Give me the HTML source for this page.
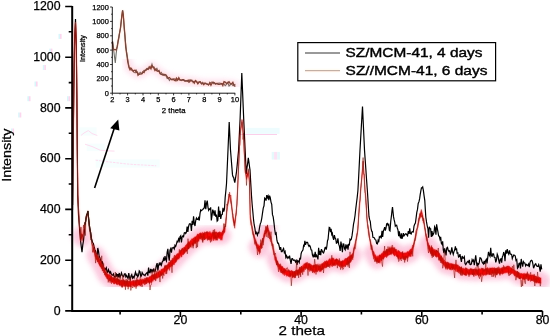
<!DOCTYPE html>
<html><head><meta charset="utf-8"><style>
html,body{margin:0;padding:0;background:#fff;width:550px;height:336px;overflow:hidden}
svg{display:block;font-family:"Liberation Sans",sans-serif}
text{stroke:#000;stroke-width:0.25px}
</style></head><body>
<svg width="550" height="336" viewBox="0 0 550 336" fill="#000">
<defs><filter id="bl" x="-5%" y="-5%" width="110%" height="110%"><feGaussianBlur stdDeviation="2.5"/></filter><filter id="jp" x="0" y="0" width="550" height="336" filterUnits="userSpaceOnUse" color-interpolation-filters="sRGB"><feColorMatrix in="SourceGraphic" type="matrix" values="0.299 0.587 0.114 0 0  0.299 0.587 0.114 0 0  0.299 0.587 0.114 0 0  0 0 0 1 0" result="Y"/><feGaussianBlur in="SourceGraphic" stdDeviation="0.85" result="B"/><feColorMatrix in="B" type="matrix" values="0.3505 -0.2935 -0.057 0 0.5  -0.1495 0.2065 -0.057 0 0.5  -0.1495 -0.2935 0.443 0 0.5  0 0 0 1 0" result="C"/><feComposite in="Y" in2="C" operator="arithmetic" k1="0" k2="1" k3="2" k4="-1"/></filter></defs>
<g filter="url(#jp)">
<rect x="-20" y="-20" width="590" height="376" fill="#fff"/>
<path d="M81.00,236.00 L81.75,237.00 L82.50,238.00 M95.60,255.00 L96.50,256.50 L97.40,258.00 L98.30,259.50 L99.20,261.00 L100.15,262.75 L101.10,264.50 L102.05,266.25 L103.00,268.00 L103.83,269.75 L104.65,271.50 L105.47,273.25 L106.30,275.00 L107.25,275.75 L108.20,276.50 L109.15,277.25 L110.10,278.00 L111.05,278.75 L112.00,279.50 L113.00,279.88 L114.00,280.25 L115.00,280.62 L116.00,281.00 L117.00,281.38 L118.00,281.75 L119.00,282.12 L120.00,282.50 L120.95,282.60 L121.90,282.70 L122.85,282.80 L123.80,282.90 L124.75,283.00 L125.70,283.10 L126.65,283.20 L127.60,283.30 L128.55,283.40 L129.50,283.50 L130.45,283.41 L131.41,283.32 L132.36,283.23 L133.32,283.14 L134.27,283.05 L135.23,282.95 L136.18,282.86 L137.14,282.77 L138.09,282.68 L139.05,282.59 L140.00,282.50 L141.00,282.18 L142.00,281.86 L143.00,281.54 L144.00,281.22 L145.00,280.90 L146.00,280.58 L147.00,280.26 L148.00,279.94 L149.00,279.62 L150.00,279.30 L151.00,278.72 L152.00,278.14 L153.00,277.56 L154.00,276.98 L155.00,276.40 L156.00,275.82 L157.00,275.24 L158.00,274.66 L159.00,274.08 L160.00,273.50 L161.00,272.60 L162.00,271.70 L163.00,270.80 L164.00,269.90 L165.00,269.00 L166.00,268.10 L167.00,267.20 L168.00,266.30 L169.00,265.40 L170.00,264.50 L171.00,263.45 L172.00,262.40 L173.00,261.35 L174.00,260.30 L175.00,259.25 L176.00,258.20 L177.00,257.15 L178.00,256.10 L179.00,255.05 L180.00,254.00 L181.00,253.00 L182.00,252.00 L183.00,251.00 L184.00,250.00 L185.00,249.00 L186.00,248.00 L187.00,247.00 L188.00,246.00 L189.00,245.00 L190.00,244.00 L191.00,243.20 L192.00,242.40 L193.00,241.60 L194.00,240.80 L195.00,240.00 L196.00,239.20 L197.00,238.40 L198.00,237.60 L199.00,236.80 L200.00,236.00 L201.00,235.93 L202.00,235.86 L203.00,235.79 L204.00,235.71 L205.00,235.64 L206.00,235.57 L207.00,235.50 L208.00,235.50 L209.00,235.50 L210.00,235.50 L211.00,235.50 L212.00,235.50 L213.00,235.50 L214.00,235.50 L215.00,235.50 L216.00,235.50 L217.00,235.50 L218.00,235.50 L219.00,235.50 L220.00,235.50 L221.00,235.50 L222.00,235.50 M257.50,247.00 L258.50,248.00 L259.50,249.00 L260.33,247.00 L261.17,245.00 L262.00,243.00 M265.00,233.00 L265.83,231.33 L266.67,229.67 L267.50,228.00 M275.40,259.00 L276.30,260.80 L277.20,262.60 L278.10,264.40 L279.00,266.20 L279.90,268.00 L280.82,268.62 L281.75,269.25 L282.68,269.88 L283.60,270.50 L284.52,271.12 L285.45,271.75 L286.38,272.38 L287.30,273.00 L288.26,273.14 L289.21,273.29 L290.17,273.43 L291.13,273.57 L292.09,273.71 L293.04,273.86 L294.00,274.00 L295.00,273.50 L296.00,273.00 L297.00,272.50 L298.00,272.00 L299.00,271.50 L300.00,271.00 L300.96,270.14 L301.91,269.29 L302.87,268.43 L303.83,267.57 L304.79,266.71 L305.74,265.86 L306.70,265.00 L307.58,265.50 L308.47,266.00 L309.35,266.50 L310.23,267.00 L311.12,267.50 L312.00,268.00 L313.00,268.00 L314.00,268.00 L315.00,268.00 L316.00,268.00 L317.00,268.00 L318.00,268.00 L319.00,268.00 L320.00,268.00 L321.00,267.33 L322.00,266.67 L323.00,266.00 L324.00,265.33 L325.00,264.67 L326.00,264.00 L327.00,263.33 L328.00,262.67 L329.00,262.00 L330.00,262.00 L331.00,262.00 L332.00,262.00 L333.00,262.00 L334.00,262.00 L335.00,262.00 L336.00,262.00 L337.00,262.33 L338.00,262.67 L339.00,263.00 L340.00,263.33 L341.00,263.67 L342.00,264.00 L343.00,263.38 L344.00,262.75 L345.00,262.12 L346.00,261.50 L347.00,260.88 L348.00,260.25 L349.00,259.62 L350.00,259.00 L350.93,257.67 L351.87,256.33 L352.80,255.00 M372.90,253.00 L373.72,254.40 L374.54,255.80 L375.36,257.20 L376.18,258.60 L377.00,260.00 L378.00,259.22 L379.00,258.44 L380.00,257.67 L381.00,256.89 L382.00,256.11 L383.00,255.33 L384.00,254.56 L385.00,253.78 L386.00,253.00 L387.00,252.50 L388.00,252.00 L389.00,251.50 L390.00,251.00 L391.00,250.50 L392.00,250.00 L393.00,250.62 L394.00,251.25 L395.00,251.88 L396.00,252.50 L397.00,253.12 L398.00,253.75 L399.00,254.38 L400.00,255.00 L401.00,255.25 L402.00,255.50 L403.00,255.75 L404.00,256.00 L405.00,255.57 L406.00,255.14 L407.00,254.71 L408.00,254.29 L409.00,253.86 L410.00,253.43 L411.00,253.00 M427.90,244.60 L428.73,246.40 L429.57,248.20 L430.40,250.00 L431.30,250.50 L432.20,251.00 L433.10,251.50 L434.00,252.00 L434.86,252.40 L435.72,252.80 L436.58,253.20 L437.44,253.60 L438.30,254.00 L439.18,255.40 L440.06,256.80 L440.94,258.20 L441.82,259.60 L442.70,261.00 L443.52,262.00 L444.35,263.00 L445.18,264.00 L446.00,265.00 L447.00,265.25 L448.00,265.50 L449.00,265.75 L450.00,266.00 L451.00,266.25 L452.00,266.50 L453.00,266.75 L454.00,267.00 L455.00,267.25 L456.00,267.50 L457.00,267.75 L458.00,268.00 L459.00,268.75 L460.00,269.50 L461.00,270.25 L462.00,271.00 L463.00,271.07 L464.00,271.14 L465.00,271.21 L466.00,271.29 L467.00,271.36 L468.00,271.43 L469.00,271.50 L470.00,271.57 L471.00,271.64 L472.00,271.71 L473.00,271.79 L474.00,271.86 L475.00,271.93 L476.00,272.00 L477.00,271.93 L478.00,271.86 L479.00,271.79 L480.00,271.71 L481.00,271.64 L482.00,271.57 L483.00,271.50 L484.00,271.43 L485.00,271.36 L486.00,271.29 L487.00,271.21 L488.00,271.14 L489.00,271.07 L490.00,271.00 L491.00,271.00 L492.00,271.00 L493.00,271.00 L494.00,271.00 L495.00,271.00 L496.00,271.00 L497.00,271.00 L498.00,271.00 L499.00,271.00 L500.00,271.00 L501.00,270.78 L502.00,270.56 L503.00,270.33 L504.00,270.11 L505.00,269.89 L506.00,269.67 L507.00,269.44 L508.00,269.22 L509.00,269.00 L510.00,269.64 L511.00,270.27 L512.00,270.91 L513.00,271.55 L514.00,272.18 L515.00,272.82 L516.00,273.45 L517.00,274.09 L518.00,274.73 L519.00,275.36 L520.00,276.00 L521.00,276.10 L522.00,276.20 L523.00,276.30 L524.00,276.40 L525.00,276.50 L526.00,276.60 L527.00,276.70 L528.00,276.80 L529.00,276.90 L530.00,277.00 L531.00,277.34 L532.00,277.67 L533.00,278.01 L534.00,278.35 L535.00,278.68 L536.00,279.02 L537.00,279.35 L538.00,279.69 L539.00,280.03 L540.00,280.36 L541.00,280.70" fill="none" stroke="#fcc2da" stroke-width="18" stroke-linecap="round" stroke-linejoin="round" opacity="0.9" filter="url(#bl)"/>
<path d="M72.60,205.00 L73.20,150.00 L73.80,90.00 L74.20,65.00 L74.60,40.00 L75.05,29.50 L75.50,19.00 L75.90,32.00 L76.30,45.00 L76.90,100.00 L77.30,150.00 L77.70,195.00 L78.10,205.00 L78.50,215.00 L79.00,221.50 L79.50,228.00 L80.00,234.00 L80.50,240.11 L81.25,246.52 L82.00,252.20 L82.75,245.18 L83.50,240.59 L84.25,232.71 L85.00,224.73 L85.75,220.57 L86.50,215.37 L87.20,213.75 L87.90,211.07 L88.65,218.78 L89.40,225.64 L90.05,229.56 L90.70,232.96 L91.35,237.90 L92.00,241.04 L92.72,242.56 L93.44,243.74 L94.16,246.97 L94.88,249.66 L95.60,251.27 L96.32,256.24 L97.04,256.50 L97.76,247.93 L98.48,251.13 L99.20,256.56 L99.83,257.40 L100.47,260.13 L101.10,261.47 L101.73,266.84 L102.37,261.33 L103.00,264.22 L103.66,270.61 L104.32,268.78 L104.98,269.99 L105.64,268.74 L106.30,267.64 L107.01,271.90 L107.72,272.26 L108.44,269.62 L109.15,271.41 L109.86,273.33 L110.58,271.83 L111.29,274.28 L112.00,275.22 L112.73,275.13 L113.45,273.91 L114.18,276.52 L114.91,277.26 L115.64,275.97 L116.36,273.37 L117.09,277.02 L117.82,274.20 L118.55,277.45 L119.27,272.97 L120.00,277.62 L120.73,275.57 L121.46,272.85 L122.19,275.12 L122.92,276.09 L123.65,276.70 L124.38,273.94 L125.12,273.77 L125.85,276.88 L126.58,275.47 L127.31,277.19 L128.04,278.50 L128.77,273.14 L129.50,277.58 L130.25,279.60 L131.00,275.97 L131.75,274.62 L132.50,278.00 L133.25,276.69 L134.00,277.99 L134.75,274.96 L135.50,272.15 L136.25,275.14 L137.00,274.18 L137.75,276.84 L138.50,275.31 L139.25,270.87 L140.00,271.70 L140.71,276.45 L141.43,275.84 L142.14,272.60 L142.86,273.98 L143.57,274.91 L144.29,274.84 L145.00,275.68 L145.71,274.08 L146.43,273.12 L147.14,272.60 L147.86,275.61 L148.57,267.56 L149.29,272.50 L150.00,272.78 L150.71,268.79 L151.43,272.31 L152.14,269.40 L152.86,272.41 L153.57,269.47 L154.29,270.80 L155.00,271.56 L155.71,268.95 L156.43,265.27 L157.14,263.08 L157.86,270.64 L158.57,265.39 L159.29,263.34 L160.00,264.87 L160.71,263.21 L161.43,264.98 L162.14,262.12 L162.86,261.25 L163.57,258.56 L164.29,260.78 L165.00,256.06 L165.71,259.67 L166.43,261.13 L167.14,252.23 L167.86,248.85 L168.57,256.31 L169.29,260.75 L170.00,250.26 L170.71,248.69 L171.43,252.75 L172.14,247.91 L172.86,247.89 L173.57,247.39 L174.29,248.92 L175.00,245.35 L175.71,246.36 L176.43,244.14 L177.14,241.27 L177.86,241.86 L178.57,239.07 L179.29,240.95 L180.00,236.66 L180.71,235.79 L181.43,242.40 L182.14,236.93 L182.86,235.95 L183.57,236.70 L184.29,232.88 L185.00,232.50 L185.71,233.55 L186.43,232.14 L187.14,226.65 L187.86,231.94 L188.57,226.47 L189.29,224.00 L190.00,223.51 L190.71,224.53 L191.43,231.05 L192.14,220.74 L192.86,224.91 L193.57,216.30 L194.29,223.31 L195.00,225.99 L195.71,220.70 L196.43,218.11 L197.14,219.30 L197.86,219.33 L198.57,217.83 L199.29,220.49 L200.00,213.65 L200.71,209.99 L201.43,210.67 L202.14,209.92 L202.86,209.61 L203.57,208.18 L204.29,207.97 L205.00,200.40 L205.75,209.25 L206.50,203.34 L207.25,200.58 L208.00,207.32 L208.67,210.33 L209.33,209.08 L210.00,209.40 L210.67,207.38 L211.33,220.46 L212.00,215.69 L212.75,209.63 L213.50,211.69 L214.25,215.56 L215.00,210.44 L215.71,216.78 L216.43,214.55 L217.14,221.06 L217.86,220.20 L218.57,206.49 L219.29,217.01 L220.00,210.91 L220.75,219.02 L221.50,214.68 L222.25,214.45 L223.00,207.92 L223.75,211.59 L224.50,208.85 L225.17,197.50 L225.83,191.16 L226.50,183.75 L227.25,167.00 L228.00,149.95 L228.60,136.07 L229.20,121.96 L229.85,135.99 L230.50,150.02 L231.17,158.26 L231.83,166.63 L232.50,174.88 L233.07,176.82 L233.65,177.30 L234.23,180.33 L234.80,182.67 L235.37,179.10 L235.93,175.70 L236.50,171.83 L237.20,164.82 L237.90,157.28 L238.60,149.98 L239.35,134.47 L240.10,118.98 L240.67,103.63 L241.23,88.35 L241.80,72.97 L242.43,88.31 L243.07,103.68 L243.70,119.01 L244.34,132.73 L244.97,146.41 L245.61,160.27 L246.25,174.02 L246.93,168.12 L247.62,163.57 L248.30,157.81 L248.87,161.61 L249.43,166.04 L250.00,169.92 L250.75,183.03 L251.50,195.71 L252.17,204.73 L252.83,211.77 L253.50,219.43 L254.20,224.99 L254.90,228.30 L255.60,233.33 L256.20,232.38 L256.80,233.80 L257.40,235.30 L258.00,232.57 L258.75,232.83 L259.50,227.74 L260.25,223.81 L261.00,222.13 L261.75,218.31 L262.50,213.21 L263.25,208.12 L264.00,205.83 L264.68,198.11 L265.37,198.90 L266.05,200.62 L266.73,195.05 L267.42,197.58 L268.10,195.85 L268.83,200.05 L269.55,195.61 L270.27,197.74 L271.00,202.09 L271.73,204.33 L272.47,214.66 L273.20,216.92 L273.93,222.41 L274.67,229.17 L275.40,233.97 L276.15,232.97 L276.90,240.22 L277.65,243.14 L278.40,243.15 L279.15,245.98 L279.90,249.88 L280.64,247.08 L281.38,251.66 L282.12,251.67 L282.86,249.88 L283.60,248.57 L284.34,252.57 L285.08,251.46 L285.82,257.37 L286.56,255.70 L287.30,258.14 L288.05,256.97 L288.80,257.92 L289.55,255.66 L290.30,260.21 L291.05,263.82 L291.80,258.77 L292.55,258.62 L293.30,260.38 L294.05,260.13 L294.80,260.16 L295.53,262.04 L296.27,260.55 L297.00,264.91 L297.73,260.67 L298.47,261.22 L299.20,262.61 L299.83,257.74 L300.47,259.54 L301.10,253.71 L301.73,251.67 L302.37,250.90 L303.00,249.76 L303.62,245.36 L304.25,245.93 L304.88,240.76 L305.50,244.75 L306.20,242.77 L306.90,242.19 L307.60,242.45 L308.30,244.93 L309.00,246.38 L309.69,245.36 L310.38,246.84 L311.06,249.89 L311.75,250.16 L312.44,255.02 L313.12,256.62 L313.81,254.92 L314.50,257.17 L315.19,251.92 L315.88,257.33 L316.56,255.16 L317.25,256.40 L317.94,259.39 L318.62,247.88 L319.31,255.01 L320.00,250.80 L320.71,255.11 L321.43,249.11 L322.14,250.86 L322.86,252.30 L323.57,252.92 L324.29,250.79 L325.00,247.68 L325.62,247.39 L326.25,249.70 L326.88,246.24 L327.50,240.74 L328.07,239.35 L328.63,233.18 L329.20,227.39 L329.83,227.62 L330.47,232.15 L331.10,228.77 L331.73,234.45 L332.37,233.26 L333.00,237.68 L333.68,239.87 L334.36,235.09 L335.04,237.94 L335.72,238.92 L336.40,243.17 L337.15,242.66 L337.90,238.29 L338.65,244.16 L339.40,246.08 L340.15,251.01 L340.90,241.64 L341.65,245.91 L342.40,252.10 L343.10,243.98 L343.80,244.00 L344.50,248.76 L345.20,249.85 L345.90,244.27 L346.60,247.53 L347.30,245.80 L348.00,249.69 L348.66,243.90 L349.32,245.51 L349.98,239.21 L350.64,240.09 L351.30,239.23 L352.04,235.64 L352.78,230.24 L353.52,224.07 L354.26,220.58 L355.00,215.79 L355.73,209.16 L356.45,203.29 L357.17,197.60 L357.90,190.82 L358.60,178.02 L359.30,164.01 L360.00,149.96 L360.62,139.17 L361.25,128.16 L361.88,117.34 L362.50,106.47 L363.17,121.08 L363.83,135.43 L364.50,150.02 L365.20,160.09 L365.90,170.05 L366.60,180.22 L367.30,189.76 L367.87,198.49 L368.43,208.18 L369.00,216.73 L369.65,219.68 L370.30,221.60 L370.95,228.02 L371.60,230.89 L372.25,231.83 L372.90,237.23 L373.65,237.52 L374.40,237.93 L375.15,239.66 L375.90,240.09 L376.65,243.56 L377.40,243.87 L378.06,240.59 L378.71,242.29 L379.37,236.79 L380.03,237.42 L380.69,236.20 L381.34,237.31 L382.00,230.71 L382.67,237.04 L383.33,231.25 L384.00,229.36 L384.67,227.11 L385.33,230.62 L386.00,228.16 L386.67,223.80 L387.33,223.38 L388.00,225.05 L388.67,224.29 L389.33,230.18 L390.00,230.86 L390.75,221.24 L391.50,215.31 L392.00,210.67 L392.50,207.04 L393.00,211.69 L393.50,216.63 L394.10,219.69 L394.70,222.02 L395.30,226.04 L395.97,225.29 L396.64,225.19 L397.31,227.98 L397.99,230.05 L398.66,236.12 L399.33,231.31 L400.00,236.26 L400.67,238.39 L401.33,233.26 L402.00,238.83 L402.67,236.36 L403.33,233.13 L404.00,235.87 L404.71,234.93 L405.43,233.93 L406.14,233.90 L406.86,234.92 L407.57,235.76 L408.29,231.13 L409.00,233.97 L409.72,228.38 L410.43,233.52 L411.15,234.05 L411.87,231.87 L412.58,231.61 L413.30,231.96 L414.00,226.09 L414.70,224.21 L415.40,222.98 L416.10,217.90 L416.80,212.37 L417.50,209.42 L418.20,203.52 L418.90,201.92 L419.60,198.93 L420.22,194.39 L420.84,190.80 L421.46,187.88 L422.08,187.83 L422.70,186.93 L423.40,190.67 L424.10,195.87 L424.80,200.68 L425.30,209.37 L425.80,217.05 L426.50,221.93 L427.20,225.86 L427.90,228.51 L428.58,237.83 L429.27,226.78 L429.95,228.48 L430.63,228.76 L431.32,236.93 L432.00,231.14 L432.66,235.34 L433.31,234.32 L433.97,232.51 L434.63,226.72 L435.29,228.17 L435.94,234.79 L436.60,224.40 L437.28,228.34 L437.95,231.76 L438.62,235.86 L439.30,236.29 L439.98,239.23 L440.65,236.93 L441.32,243.29 L442.00,244.25 L442.65,241.27 L443.30,249.81 L443.95,253.12 L444.60,248.39 L445.32,250.88 L446.04,255.39 L446.76,248.00 L447.48,247.32 L448.20,250.00 L448.92,251.45 L449.64,250.89 L450.36,253.80 L451.08,252.30 L451.80,247.36 L452.52,251.64 L453.24,254.37 L453.96,251.59 L454.68,250.11 L455.40,246.46 L455.97,250.06 L456.53,248.20 L457.10,253.18 L457.82,252.82 L458.54,257.08 L459.26,256.66 L459.98,254.12 L460.70,258.31 L461.42,261.86 L462.14,256.02 L462.86,258.11 L463.58,258.10 L464.30,256.71 L465.01,263.50 L465.73,264.62 L466.44,263.38 L467.15,262.01 L467.86,261.37 L468.57,262.33 L469.29,259.85 L470.00,264.43 L470.71,264.54 L471.43,263.96 L472.14,259.70 L472.86,261.07 L473.57,260.12 L474.29,265.20 L475.00,260.49 L475.71,255.33 L476.43,261.93 L477.14,266.34 L477.86,263.55 L478.57,264.48 L479.29,262.67 L480.00,257.80 L480.70,257.93 L481.40,259.24 L482.10,262.06 L482.80,263.04 L483.50,263.87 L484.20,260.87 L484.90,264.21 L485.60,260.64 L486.30,259.27 L487.00,263.33 L487.75,257.58 L488.50,251.94 L489.25,254.67 L490.00,256.23 L490.71,247.76 L491.43,255.86 L492.14,256.36 L492.86,253.75 L493.57,254.04 L494.29,257.30 L495.00,257.50 L495.75,262.41 L496.50,259.80 L497.25,254.18 L498.00,256.09 L498.75,260.36 L499.50,263.60 L500.25,259.22 L501.00,258.88 L501.67,262.62 L502.33,256.94 L503.00,255.64 L503.67,252.06 L504.33,254.06 L505.00,261.13 L505.75,250.36 L506.50,253.70 L507.25,249.02 L508.00,252.70 L508.75,254.20 L509.50,250.30 L510.20,253.76 L510.90,254.42 L511.60,254.35 L512.30,258.56 L513.00,256.65 L513.75,254.92 L514.50,255.19 L515.25,255.99 L516.00,260.40 L516.75,259.66 L517.50,268.08 L518.25,267.12 L519.00,263.50 L519.74,263.12 L520.48,268.51 L521.22,258.97 L521.95,262.79 L522.69,266.54 L523.43,261.57 L524.17,262.73 L524.91,263.06 L525.65,265.76 L526.38,264.37 L527.12,265.07 L527.86,265.59 L528.60,264.08 L529.31,267.16 L530.02,262.52 L530.73,260.88 L531.44,260.22 L532.16,260.86 L532.87,263.89 L533.58,268.24 L534.29,266.23 L535.00,264.45 L535.74,263.73 L536.49,265.55 L537.23,266.32 L537.98,266.36 L538.72,264.65 L539.47,267.49 L540.21,271.62 L540.96,264.22 L541.70,269.41" fill="none" stroke="#000" stroke-width="1.2" stroke-linejoin="miter"/>
<path d="M72.60,210.00 L72.90,180.00 L73.20,150.00 L73.80,90.00 L74.20,65.00 L74.60,40.00 L75.05,31.00 L75.50,22.00 L75.90,33.50 L76.30,45.00 L76.60,72.50 L76.90,100.00 L77.30,150.00 L77.80,195.00 L78.37,205.33 L78.93,215.67 L79.50,226.00 L80.00,229.33 L80.50,230.97 L81.00,233.95 L81.50,233.86 L82.00,234.05 L82.50,234.63 L83.00,233.98 L83.50,231.10 L84.00,228.25 L84.50,225.27 L85.00,222.67 L85.50,220.03 L86.00,217.07 L86.47,215.97 L86.95,214.38 L87.43,213.37 L87.90,211.56 L88.40,217.43 L88.90,222.26 L89.40,227.29 L89.92,230.44 L90.44,233.57 L90.96,236.67 L91.48,240.13 L92.00,243.49 L92.60,244.68 L93.20,244.74 L93.80,246.92 L94.40,248.63 L95.00,250.63 L95.60,253.49 L96.11,253.32 L96.63,254.28 L97.14,254.76 L97.66,255.50 L98.17,256.42 L98.69,257.00 L99.20,258.48 L99.74,258.86 L100.29,261.22 L100.83,261.27 L101.37,262.97 L101.91,264.10 L102.46,263.93 L103.00,265.68 L103.55,266.70 L104.10,267.10 L104.65,269.42 L105.20,269.67 L105.75,271.86 L106.30,272.73 L106.87,273.23 L107.44,273.18 L108.01,273.89 L108.58,274.48 L109.15,274.80 L109.72,274.53 L110.29,274.62 L110.86,276.30 L111.43,275.92 L112.00,277.38 L112.57,276.88 L113.14,277.52 L113.71,277.51 L114.29,277.81 L114.86,278.24 L115.43,279.27 L116.00,278.10 L116.57,278.43 L117.14,278.30 L117.71,278.66 L118.29,279.68 L118.86,279.80 L119.43,280.05 L120.00,279.90 L120.59,280.97 L121.19,280.02 L121.78,279.92 L122.38,280.59 L122.97,279.97 L123.56,279.39 L124.16,280.27 L124.75,280.25 L125.34,280.48 L125.94,281.34 L126.53,281.05 L127.12,280.98 L127.72,280.45 L128.31,280.75 L128.91,281.17 L129.50,281.25 L130.08,280.96 L130.67,281.53 L131.25,281.21 L131.83,280.89 L132.42,280.60 L133.00,281.18 L133.58,280.01 L134.17,281.11 L134.75,281.24 L135.33,281.17 L135.92,280.14 L136.50,280.20 L137.08,280.07 L137.67,279.78 L138.25,280.01 L138.83,279.82 L139.42,279.69 L140.00,280.51 L140.59,279.03 L141.18,279.87 L141.76,279.65 L142.35,279.20 L142.94,278.96 L143.53,279.18 L144.12,279.38 L144.71,278.08 L145.29,278.29 L145.88,278.21 L146.47,277.82 L147.06,277.91 L147.65,277.24 L148.24,278.02 L148.82,277.23 L149.41,276.46 L150.00,276.94 L150.59,275.97 L151.18,275.57 L151.76,275.37 L152.35,274.99 L152.94,274.73 L153.53,274.50 L154.12,273.58 L154.71,273.74 L155.29,274.22 L155.88,273.12 L156.47,272.65 L157.06,273.53 L157.65,272.12 L158.24,271.82 L158.82,271.32 L159.41,270.62 L160.00,270.71 L160.59,270.88 L161.18,269.08 L161.76,269.43 L162.35,268.99 L162.94,268.54 L163.53,268.46 L164.12,267.39 L164.71,266.71 L165.29,265.98 L165.88,265.32 L166.47,265.63 L167.06,264.61 L167.65,264.83 L168.24,263.14 L168.82,262.00 L169.41,262.21 L170.00,262.15 L170.59,261.18 L171.18,260.11 L171.76,260.30 L172.35,257.93 L172.94,260.09 L173.53,258.49 L174.12,257.50 L174.71,256.30 L175.29,256.06 L175.88,255.35 L176.47,254.62 L177.06,253.60 L177.65,253.69 L178.24,253.33 L178.82,253.88 L179.41,251.47 L180.00,250.59 L180.59,250.34 L181.18,250.07 L181.76,248.48 L182.35,247.98 L182.94,249.35 L183.53,247.55 L184.12,247.04 L184.71,247.20 L185.29,246.02 L185.88,244.93 L186.47,244.41 L187.06,243.58 L187.65,243.70 L188.24,241.84 L188.82,241.66 L189.41,241.93 L190.00,240.95 L190.56,240.18 L191.11,240.42 L191.67,238.72 L192.22,238.93 L192.78,238.49 L193.33,238.07 L193.89,237.63 L194.44,237.17 L195.00,236.62 L195.56,236.95 L196.11,236.17 L196.67,235.61 L197.22,234.30 L197.78,233.95 L198.33,234.30 L198.89,233.95 L199.44,233.28 L200.00,232.92 L200.58,232.67 L201.17,233.48 L201.75,232.73 L202.33,232.20 L202.92,233.49 L203.50,232.97 L204.08,232.63 L204.67,231.70 L205.25,232.88 L205.83,233.30 L206.42,231.79 L207.00,232.57 L207.58,231.68 L208.17,232.58 L208.75,232.04 L209.33,232.49 L209.92,231.30 L210.50,232.42 L211.08,233.44 L211.67,232.94 L212.25,231.88 L212.83,232.42 L213.42,231.88 L214.00,232.74 L214.57,231.87 L215.14,231.75 L215.71,232.17 L216.29,231.84 L216.86,232.25 L217.43,233.05 L218.00,232.56 L218.57,232.37 L219.14,232.12 L219.71,231.68 L220.29,232.09 L220.86,232.50 L221.43,232.18 L222.00,233.06 L222.60,231.02 L223.20,229.74 L223.80,228.86 L224.40,226.66 L225.00,225.70 L225.50,221.68 L226.00,216.98 L226.50,212.69 L227.00,208.05 L227.50,203.79 L228.03,200.55 L228.55,198.08 L229.07,194.47 L229.60,191.97 L230.07,195.26 L230.55,198.00 L231.03,200.29 L231.50,202.88 L232.00,208.01 L232.50,211.94 L233.00,216.27 L233.45,218.04 L233.90,219.16 L234.35,221.21 L234.80,222.28 L235.37,218.45 L235.93,213.12 L236.50,208.32 L237.00,198.86 L237.50,188.96 L238.00,179.08 L238.50,169.29 L239.00,157.98 L239.50,146.31 L240.00,134.66 L240.50,130.68 L241.00,126.88 L241.50,123.17 L242.00,119.37 L242.50,124.50 L243.00,129.40 L243.50,134.35 L244.07,146.40 L244.63,157.78 L245.20,169.24 L245.63,171.61 L246.07,174.15 L246.50,177.41 L246.95,174.33 L247.40,173.31 L247.85,172.19 L248.30,170.25 L248.85,174.87 L249.40,179.17 L249.85,196.45 L250.30,214.40 L250.85,217.77 L251.40,221.15 L251.95,224.25 L252.50,227.97 L253.07,230.70 L253.65,232.69 L254.23,235.02 L254.80,237.36 L255.34,238.65 L255.88,239.88 L256.42,242.05 L256.96,243.12 L257.50,244.43 L258.00,244.43 L258.50,244.81 L259.00,245.93 L259.50,245.88 L260.00,245.50 L260.50,243.36 L261.00,243.68 L261.50,241.69 L262.00,240.24 L262.60,238.80 L263.20,237.69 L263.80,234.59 L264.40,232.16 L265.00,230.14 L265.50,229.59 L266.00,227.74 L266.50,226.72 L267.00,225.74 L267.50,225.39 L268.08,227.41 L268.67,229.57 L269.25,231.08 L269.83,232.55 L270.42,235.74 L271.00,236.45 L271.55,240.27 L272.10,242.65 L272.65,244.27 L273.20,247.25 L273.75,249.78 L274.30,251.90 L274.85,254.64 L275.40,256.99 L275.96,256.64 L276.52,259.26 L277.09,260.31 L277.65,260.88 L278.21,262.52 L278.77,263.58 L279.34,264.78 L279.90,264.67 L280.47,264.91 L281.04,266.14 L281.61,266.22 L282.18,266.35 L282.75,266.62 L283.32,268.15 L283.88,267.93 L284.45,268.56 L285.02,268.30 L285.59,269.15 L286.16,269.67 L286.73,270.69 L287.30,270.83 L287.86,270.70 L288.42,270.11 L288.98,270.91 L289.53,270.89 L290.09,270.68 L290.65,270.99 L291.21,270.80 L291.77,270.18 L292.32,271.36 L292.88,271.05 L293.44,271.54 L294.00,271.24 L294.60,271.50 L295.20,271.31 L295.80,270.19 L296.40,269.79 L297.00,270.35 L297.60,270.13 L298.20,269.94 L298.80,269.25 L299.40,267.36 L300.00,268.94 L300.56,267.27 L301.12,268.08 L301.68,266.27 L302.23,266.73 L302.79,265.22 L303.35,265.51 L303.91,263.71 L304.47,263.82 L305.02,263.46 L305.58,263.14 L306.14,263.45 L306.70,262.45 L307.29,262.19 L307.88,263.38 L308.47,263.29 L309.06,264.05 L309.64,264.15 L310.23,264.00 L310.82,264.13 L311.41,264.69 L312.00,265.22 L312.57,265.56 L313.14,265.16 L313.71,264.89 L314.29,264.97 L314.86,265.09 L315.43,264.21 L316.00,265.09 L316.57,264.35 L317.14,265.04 L317.71,265.85 L318.29,265.36 L318.86,265.30 L319.43,265.75 L320.00,265.70 L320.60,265.62 L321.20,264.17 L321.80,263.58 L322.40,263.61 L323.00,262.65 L323.60,262.56 L324.20,262.30 L324.80,260.91 L325.40,261.48 L326.00,260.89 L326.60,260.58 L327.20,261.19 L327.80,260.64 L328.40,260.21 L329.00,259.21 L329.58,258.82 L330.17,258.37 L330.75,260.25 L331.33,259.28 L331.92,257.98 L332.50,257.80 L333.08,258.68 L333.67,257.82 L334.25,259.38 L334.83,259.86 L335.42,259.19 L336.00,258.93 L336.60,258.64 L337.20,259.07 L337.80,259.55 L338.40,259.93 L339.00,261.32 L339.60,260.32 L340.20,261.34 L340.80,261.23 L341.40,261.30 L342.00,260.72 L342.57,260.45 L343.14,260.44 L343.71,260.86 L344.29,259.70 L344.86,258.64 L345.43,258.57 L346.00,258.28 L346.57,258.51 L347.14,258.35 L347.71,257.37 L348.29,256.52 L348.86,256.95 L349.43,256.21 L350.00,255.40 L350.56,255.87 L351.12,254.81 L351.68,254.65 L352.24,253.54 L352.80,253.23 L353.35,250.65 L353.90,247.68 L354.45,245.37 L355.00,242.97 L355.50,240.38 L356.00,238.42 L356.50,235.68 L357.00,232.55 L357.50,230.81 L358.00,224.41 L358.50,217.99 L359.00,211.45 L359.50,205.22 L360.00,198.65 L360.52,191.82 L361.03,185.99 L361.55,179.77 L362.07,173.32 L362.58,167.05 L363.10,160.98 L363.58,167.56 L364.05,174.86 L364.52,182.11 L365.00,189.48 L365.50,195.55 L366.00,202.42 L366.50,209.02 L367.00,217.00 L367.50,223.33 L368.00,225.85 L368.50,229.61 L369.00,231.72 L369.50,235.40 L370.00,238.65 L370.58,240.40 L371.16,243.76 L371.74,245.85 L372.32,248.48 L372.90,250.88 L373.49,251.21 L374.07,252.14 L374.66,254.40 L375.24,254.49 L375.83,255.45 L376.41,256.28 L377.00,257.61 L377.60,255.72 L378.20,256.41 L378.80,255.55 L379.40,254.87 L380.00,254.65 L380.60,254.88 L381.20,254.06 L381.80,253.24 L382.40,253.30 L383.00,252.05 L383.60,250.91 L384.20,251.38 L384.80,250.91 L385.40,251.30 L386.00,250.18 L386.60,249.98 L387.20,249.05 L387.80,249.47 L388.40,248.98 L389.00,248.72 L389.60,247.68 L390.20,248.47 L390.80,247.98 L391.40,247.96 L392.00,246.61 L392.57,247.89 L393.14,247.67 L393.71,247.64 L394.29,249.20 L394.86,248.66 L395.43,249.02 L396.00,249.73 L396.57,249.34 L397.14,251.99 L397.71,250.44 L398.29,250.61 L398.86,250.58 L399.43,251.21 L400.00,251.62 L400.57,252.48 L401.14,252.10 L401.71,252.55 L402.29,252.50 L402.86,252.47 L403.43,253.07 L404.00,253.32 L404.58,252.81 L405.17,252.53 L405.75,252.92 L406.33,252.89 L406.92,251.72 L407.50,251.44 L408.08,251.96 L408.67,251.25 L409.25,250.90 L409.83,249.80 L410.42,249.34 L411.00,248.96 L411.57,248.84 L412.15,247.04 L412.73,245.07 L413.30,244.84 L413.83,242.44 L414.37,239.69 L414.90,237.49 L415.43,235.00 L415.97,233.10 L416.50,230.52 L417.00,227.72 L417.50,225.28 L418.00,222.40 L418.50,218.81 L419.05,217.58 L419.60,215.66 L420.15,213.20 L420.70,211.65 L421.25,209.42 L421.75,210.94 L422.25,213.01 L422.75,214.93 L423.25,217.26 L423.75,219.63 L424.26,222.75 L424.77,226.35 L425.29,228.86 L425.80,232.98 L426.32,234.00 L426.85,237.61 L427.38,239.90 L427.90,242.73 L428.40,242.69 L428.90,244.80 L429.40,245.11 L429.90,246.08 L430.40,247.16 L430.91,248.06 L431.43,246.81 L431.94,247.90 L432.46,247.37 L432.97,248.27 L433.49,249.18 L434.00,249.50 L434.54,249.35 L435.07,250.71 L435.61,249.61 L436.15,250.26 L436.69,249.92 L437.23,251.00 L437.76,250.99 L438.30,251.89 L438.85,252.62 L439.40,253.12 L439.95,254.15 L440.50,255.31 L441.05,256.11 L441.60,256.63 L442.15,258.20 L442.70,257.59 L443.25,259.05 L443.80,260.97 L444.35,259.72 L444.90,261.92 L445.45,261.63 L446.00,261.89 L446.57,262.13 L447.14,261.90 L447.71,262.06 L448.29,262.93 L448.86,263.38 L449.43,263.14 L450.00,263.78 L450.57,263.31 L451.14,263.90 L451.71,263.24 L452.29,263.85 L452.86,264.08 L453.43,264.35 L454.00,263.82 L454.57,264.55 L455.14,264.38 L455.71,264.03 L456.29,264.41 L456.86,265.37 L457.43,264.92 L458.00,264.64 L458.57,265.77 L459.14,267.08 L459.71,266.92 L460.29,267.36 L460.86,267.46 L461.43,266.79 L462.00,268.03 L462.58,268.59 L463.17,267.83 L463.75,269.03 L464.33,268.65 L464.92,268.64 L465.50,267.69 L466.08,267.84 L466.67,269.44 L467.25,268.49 L467.83,269.25 L468.42,269.31 L469.00,269.38 L469.58,269.14 L470.17,269.02 L470.75,268.24 L471.33,268.65 L471.92,268.83 L472.50,268.95 L473.08,269.61 L473.67,269.36 L474.25,268.71 L474.83,268.89 L475.42,269.02 L476.00,270.04 L476.58,269.02 L477.17,270.17 L477.75,269.77 L478.33,268.81 L478.92,269.26 L479.50,268.45 L480.08,269.85 L480.67,268.65 L481.25,268.19 L481.83,268.01 L482.42,268.73 L483.00,267.90 L483.58,270.30 L484.17,269.16 L484.75,268.90 L485.33,268.29 L485.92,269.05 L486.50,268.32 L487.08,268.12 L487.67,267.48 L488.25,268.21 L488.83,268.82 L489.42,268.20 L490.00,267.58 L490.59,268.82 L491.18,267.84 L491.76,268.10 L492.35,267.67 L492.94,267.97 L493.53,267.88 L494.12,267.71 L494.71,267.67 L495.29,268.75 L495.88,267.93 L496.47,268.19 L497.06,267.97 L497.65,267.41 L498.24,268.17 L498.82,268.95 L499.41,268.88 L500.00,267.74 L500.60,268.39 L501.20,267.94 L501.80,267.65 L502.40,267.56 L503.00,267.59 L503.60,266.57 L504.20,266.92 L504.80,267.43 L505.40,267.48 L506.00,267.24 L506.60,266.16 L507.20,266.07 L507.80,266.08 L508.40,266.31 L509.00,265.82 L509.58,266.55 L510.16,267.63 L510.74,267.20 L511.32,268.00 L511.89,268.35 L512.47,269.14 L513.05,268.96 L513.63,269.78 L514.21,270.19 L514.79,270.26 L515.37,270.92 L515.95,270.54 L516.53,271.40 L517.11,271.45 L517.68,271.14 L518.26,272.09 L518.84,272.79 L519.42,272.71 L520.00,273.40 L520.59,273.43 L521.18,273.36 L521.76,273.58 L522.35,273.80 L522.94,273.82 L523.53,273.50 L524.12,274.01 L524.71,273.13 L525.29,273.70 L525.88,273.69 L526.47,273.82 L527.06,273.16 L527.65,273.58 L528.24,275.11 L528.82,273.59 L529.41,275.17 L530.00,274.99 L530.58,274.94 L531.16,274.76 L531.74,275.19 L532.32,274.89 L532.89,274.71 L533.47,275.75 L534.05,274.99 L534.63,275.88 L535.21,275.92 L535.79,275.92 L536.37,276.31 L536.95,276.83 L537.53,277.96 L538.11,276.52 L538.68,277.71 L539.26,277.09 L539.84,277.44 L540.42,278.06 L541.00,277.68 L541.00,282.86 L540.42,283.42 L539.84,283.19 L539.26,282.69 L538.68,283.17 L538.11,283.01 L537.53,281.85 L536.95,283.47 L536.37,282.80 L535.79,282.13 L535.21,282.57 L534.63,282.51 L534.05,281.12 L533.47,281.51 L532.89,280.21 L532.32,280.14 L531.74,281.10 L531.16,280.26 L530.58,281.58 L530.00,279.30 L529.41,279.62 L528.82,280.78 L528.24,279.71 L527.65,280.42 L527.06,278.53 L526.47,278.89 L525.88,278.71 L525.29,278.73 L524.71,280.04 L524.12,279.20 L523.53,279.24 L522.94,279.03 L522.35,279.85 L521.76,278.16 L521.18,277.88 L520.59,278.50 L520.00,279.07 L519.42,278.89 L518.84,277.48 L518.26,278.28 L517.68,277.32 L517.11,277.37 L516.53,277.17 L515.95,276.81 L515.37,275.63 L514.79,275.76 L514.21,275.64 L513.63,274.61 L513.05,273.44 L512.47,273.30 L511.89,273.88 L511.32,273.52 L510.74,273.92 L510.16,272.29 L509.58,273.23 L509.00,273.04 L508.40,274.43 L507.80,272.05 L507.20,272.86 L506.60,272.69 L506.00,272.59 L505.40,273.06 L504.80,272.83 L504.20,273.36 L503.60,273.41 L503.00,273.69 L502.40,274.29 L501.80,274.07 L501.20,273.55 L500.60,273.71 L500.00,273.91 L499.41,274.41 L498.82,273.71 L498.24,272.82 L497.65,274.20 L497.06,274.75 L496.47,274.48 L495.88,274.51 L495.29,273.58 L494.71,273.35 L494.12,275.60 L493.53,273.65 L492.94,273.04 L492.35,273.69 L491.76,273.31 L491.18,275.02 L490.59,274.65 L490.00,274.59 L489.42,274.56 L488.83,273.43 L488.25,274.63 L487.67,274.58 L487.08,274.04 L486.50,274.48 L485.92,275.60 L485.33,274.72 L484.75,274.79 L484.17,275.24 L483.58,275.73 L483.00,275.16 L482.42,274.56 L481.83,274.01 L481.25,275.44 L480.67,276.68 L480.08,275.58 L479.50,274.64 L478.92,276.06 L478.33,276.17 L477.75,274.81 L477.17,274.72 L476.58,274.24 L476.00,275.99 L475.42,274.81 L474.83,274.77 L474.25,274.17 L473.67,275.84 L473.08,274.78 L472.50,274.61 L471.92,275.02 L471.33,274.08 L470.75,274.60 L470.17,274.69 L469.58,275.27 L469.00,274.10 L468.42,274.67 L467.83,273.43 L467.25,274.51 L466.67,275.49 L466.08,275.46 L465.50,275.45 L464.92,274.94 L464.33,275.13 L463.75,273.53 L463.17,274.36 L462.58,273.33 L462.00,275.44 L461.43,273.01 L460.86,272.06 L460.29,274.08 L459.71,273.67 L459.14,271.55 L458.57,271.85 L458.00,270.86 L457.43,272.16 L456.86,268.55 L456.29,271.84 L455.71,271.22 L455.14,269.31 L454.57,270.19 L454.00,269.12 L453.43,268.58 L452.86,269.90 L452.29,269.54 L451.71,270.21 L451.14,268.20 L450.57,269.81 L450.00,269.87 L449.43,269.29 L448.86,267.40 L448.29,268.77 L447.71,269.59 L447.14,268.75 L446.57,267.04 L446.00,267.95 L445.45,268.25 L444.90,267.04 L444.35,265.83 L443.80,265.45 L443.25,264.20 L442.70,263.73 L442.15,263.23 L441.60,263.20 L441.05,261.43 L440.50,260.54 L439.95,261.21 L439.40,258.76 L438.85,259.71 L438.30,257.41 L437.76,256.51 L437.23,257.02 L436.69,257.46 L436.15,256.86 L435.61,256.21 L435.07,255.32 L434.54,255.38 L434.00,255.39 L433.49,255.72 L432.97,255.54 L432.46,255.87 L431.94,254.35 L431.43,255.76 L430.91,254.34 L430.40,252.97 L429.90,252.57 L429.40,250.92 L428.90,249.59 L428.40,249.25 L427.90,246.23 L427.38,244.64 L426.85,241.58 L426.32,239.88 L425.80,236.46 L425.29,232.95 L424.77,229.42 L424.26,226.36 L423.75,223.51 L423.25,222.67 L422.75,219.88 L422.25,217.64 L421.75,216.31 L421.25,214.03 L420.70,216.14 L420.15,218.41 L419.60,218.67 L419.05,222.00 L418.50,223.82 L418.00,226.01 L417.50,228.53 L417.00,231.52 L416.50,234.33 L415.97,237.26 L415.43,239.50 L414.90,241.35 L414.37,244.20 L413.83,246.98 L413.30,247.76 L412.73,250.91 L412.15,253.65 L411.57,254.80 L411.00,256.97 L410.42,256.32 L409.83,256.29 L409.25,256.60 L408.67,255.90 L408.08,257.69 L407.50,258.60 L406.92,257.54 L406.33,258.11 L405.75,259.47 L405.17,260.28 L404.58,259.14 L404.00,259.92 L403.43,257.96 L402.86,257.62 L402.29,258.72 L401.71,258.71 L401.14,258.40 L400.57,259.14 L400.00,258.96 L399.43,256.98 L398.86,258.87 L398.29,259.46 L397.71,258.12 L397.14,256.51 L396.57,256.40 L396.00,256.21 L395.43,254.79 L394.86,255.64 L394.29,256.13 L393.71,254.47 L393.14,254.65 L392.57,253.37 L392.00,253.58 L391.40,253.70 L390.80,254.30 L390.20,254.09 L389.60,254.99 L389.00,254.88 L388.40,255.54 L387.80,254.77 L387.20,256.70 L386.60,257.63 L386.00,256.27 L385.40,256.93 L384.80,257.24 L384.20,257.58 L383.60,259.14 L383.00,259.20 L382.40,258.65 L381.80,260.86 L381.20,259.70 L380.60,260.78 L380.00,263.40 L379.40,262.53 L378.80,262.43 L378.20,262.96 L377.60,261.64 L377.00,261.78 L376.41,262.10 L375.83,261.05 L375.24,260.82 L374.66,259.51 L374.07,258.07 L373.49,256.66 L372.90,255.33 L372.32,252.58 L371.74,250.16 L371.16,247.65 L370.58,245.24 L370.00,241.94 L369.50,238.51 L369.00,236.86 L368.50,233.82 L368.00,229.87 L367.50,226.54 L367.00,219.70 L366.50,212.23 L366.00,205.59 L365.50,198.53 L365.00,191.20 L364.52,184.31 L364.05,176.20 L363.58,169.38 L363.10,161.43 L362.58,168.53 L362.07,175.11 L361.55,181.91 L361.03,188.08 L360.52,194.90 L360.00,201.56 L359.50,208.14 L359.00,213.99 L358.50,220.96 L358.00,227.07 L357.50,232.83 L357.00,237.07 L356.50,239.82 L356.00,241.05 L355.50,244.69 L355.00,247.10 L354.45,249.07 L353.90,252.22 L353.35,254.89 L352.80,259.92 L352.24,258.31 L351.68,259.83 L351.12,261.09 L350.56,262.38 L350.00,262.81 L349.43,262.63 L348.86,263.85 L348.29,264.18 L347.71,264.97 L347.14,264.20 L346.57,265.32 L346.00,263.86 L345.43,266.17 L344.86,266.18 L344.29,265.54 L343.71,266.97 L343.14,266.47 L342.57,266.24 L342.00,268.13 L341.40,266.52 L340.80,266.80 L340.20,265.08 L339.60,267.08 L339.00,265.49 L338.40,265.66 L337.80,265.33 L337.20,264.52 L336.60,264.78 L336.00,264.56 L335.42,265.68 L334.83,265.79 L334.25,265.53 L333.67,265.48 L333.08,265.71 L332.50,266.67 L331.92,264.34 L331.33,266.41 L330.75,265.07 L330.17,264.65 L329.58,265.65 L329.00,266.46 L328.40,264.99 L327.80,266.32 L327.20,266.54 L326.60,267.69 L326.00,267.67 L325.40,267.92 L324.80,267.59 L324.20,268.29 L323.60,268.81 L323.00,268.77 L322.40,269.63 L321.80,270.24 L321.20,271.58 L320.60,271.05 L320.00,272.13 L319.43,271.31 L318.86,269.95 L318.29,269.95 L317.71,272.16 L317.14,271.36 L316.57,271.54 L316.00,272.11 L315.43,271.33 L314.86,272.11 L314.29,273.31 L313.71,271.68 L313.14,272.05 L312.57,270.42 L312.00,271.41 L311.41,270.53 L310.82,270.99 L310.23,270.12 L309.64,271.61 L309.06,267.47 L308.47,270.21 L307.88,269.49 L307.29,268.84 L306.70,268.69 L306.14,268.20 L305.58,268.21 L305.02,268.12 L304.47,270.11 L303.91,272.08 L303.35,270.15 L302.79,270.63 L302.23,272.15 L301.68,272.43 L301.12,272.41 L300.56,272.79 L300.00,275.14 L299.40,273.86 L298.80,273.29 L298.20,275.32 L297.60,274.57 L297.00,274.27 L296.40,275.41 L295.80,276.26 L295.20,276.00 L294.60,277.86 L294.00,278.06 L293.44,275.91 L292.88,277.04 L292.32,277.93 L291.77,276.25 L291.21,275.37 L290.65,276.48 L290.09,276.77 L289.53,277.24 L288.98,275.72 L288.42,276.64 L287.86,275.72 L287.30,275.86 L286.73,276.40 L286.16,275.00 L285.59,274.90 L285.02,273.29 L284.45,275.66 L283.88,273.45 L283.32,274.58 L282.75,274.17 L282.18,272.80 L281.61,272.88 L281.04,270.91 L280.47,272.62 L279.90,270.49 L279.34,269.37 L278.77,269.45 L278.21,267.16 L277.65,266.35 L277.09,264.98 L276.52,264.70 L275.96,263.12 L275.40,261.12 L274.85,260.09 L274.30,256.19 L273.75,254.43 L273.20,251.75 L272.65,249.37 L272.10,246.56 L271.55,244.33 L271.00,242.14 L270.42,241.27 L269.83,238.26 L269.25,235.73 L268.67,234.40 L268.08,231.49 L267.50,230.66 L267.00,232.44 L266.50,232.41 L266.00,233.48 L265.50,234.46 L265.00,236.77 L264.40,236.77 L263.80,238.92 L263.20,242.41 L262.60,242.14 L262.00,246.93 L261.50,249.00 L261.00,247.58 L260.50,248.13 L260.00,251.02 L259.50,254.33 L259.00,251.95 L258.50,251.40 L258.00,250.68 L257.50,249.49 L256.96,248.57 L256.42,246.61 L255.88,245.87 L255.34,243.38 L254.80,242.54 L254.23,239.21 L253.65,237.19 L253.07,235.56 L252.50,231.38 L251.95,229.22 L251.40,225.26 L250.85,222.38 L250.30,217.45 L249.85,199.04 L249.40,181.86 L248.85,177.31 L248.30,173.12 L247.85,175.40 L247.40,176.78 L246.95,178.05 L246.50,179.52 L246.07,176.08 L245.63,173.39 L245.20,170.44 L244.63,158.75 L244.07,147.28 L243.50,135.70 L243.00,130.45 L242.50,125.48 L242.00,120.52 L241.50,124.67 L241.00,128.48 L240.50,131.78 L240.00,135.41 L239.50,147.01 L239.00,158.85 L238.50,170.47 L238.00,181.04 L237.50,191.41 L237.00,201.25 L236.50,212.47 L235.93,216.69 L235.37,221.74 L234.80,228.36 L234.35,226.59 L233.90,223.34 L233.45,222.11 L233.00,220.33 L232.50,215.69 L232.00,210.83 L231.50,206.79 L231.03,204.49 L230.55,202.24 L230.07,198.60 L229.60,195.32 L229.07,199.49 L228.55,202.10 L228.03,204.53 L227.50,207.50 L227.00,211.80 L226.50,216.23 L226.00,220.48 L225.50,225.26 L225.00,231.73 L224.40,232.88 L223.80,233.53 L223.20,234.87 L222.60,236.87 L222.00,240.33 L221.43,238.94 L220.86,240.36 L220.29,238.76 L219.71,238.63 L219.14,238.24 L218.57,238.42 L218.00,237.42 L217.43,240.18 L216.86,240.24 L216.29,237.91 L215.71,239.23 L215.14,240.51 L214.57,237.90 L214.00,239.90 L213.42,240.75 L212.83,237.03 L212.25,239.42 L211.67,241.44 L211.08,239.27 L210.50,239.80 L209.92,239.53 L209.33,240.26 L208.75,238.96 L208.17,238.63 L207.58,240.50 L207.00,239.42 L206.42,237.79 L205.83,239.06 L205.25,239.17 L204.67,239.90 L204.08,238.20 L203.50,239.09 L202.92,241.21 L202.33,241.56 L201.75,238.17 L201.17,239.81 L200.58,238.66 L200.00,238.45 L199.44,238.84 L198.89,241.39 L198.33,240.64 L197.78,241.97 L197.22,242.74 L196.67,241.87 L196.11,243.41 L195.56,243.17 L195.00,243.46 L194.44,243.43 L193.89,244.89 L193.33,246.30 L192.78,244.97 L192.22,245.37 L191.67,244.26 L191.11,246.63 L190.56,246.07 L190.00,247.75 L189.41,247.49 L188.82,249.03 L188.24,249.20 L187.65,249.37 L187.06,250.86 L186.47,251.01 L185.88,251.50 L185.29,252.47 L184.71,253.13 L184.12,253.52 L183.53,254.71 L182.94,254.97 L182.35,254.14 L181.76,257.15 L181.18,256.67 L180.59,254.82 L180.00,257.74 L179.41,257.82 L178.82,259.41 L178.24,258.70 L177.65,259.19 L177.06,260.58 L176.47,260.76 L175.88,262.66 L175.29,262.22 L174.71,263.55 L174.12,264.97 L173.53,264.56 L172.94,264.57 L172.35,266.27 L171.76,266.06 L171.18,266.60 L170.59,267.08 L170.00,267.06 L169.41,270.51 L168.82,268.25 L168.24,269.28 L167.65,268.96 L167.06,270.50 L166.47,271.13 L165.88,274.13 L165.29,271.05 L164.71,272.15 L164.12,271.77 L163.53,274.46 L162.94,274.19 L162.35,274.71 L161.76,275.28 L161.18,275.79 L160.59,275.54 L160.00,277.04 L159.41,277.08 L158.82,277.15 L158.24,277.67 L157.65,278.44 L157.06,277.80 L156.47,278.33 L155.88,278.12 L155.29,280.20 L154.71,279.63 L154.12,279.07 L153.53,279.90 L152.94,281.56 L152.35,280.53 L151.76,282.76 L151.18,281.36 L150.59,282.49 L150.00,282.84 L149.41,283.76 L148.82,282.45 L148.24,282.73 L147.65,282.45 L147.06,283.47 L146.47,283.76 L145.88,282.26 L145.29,284.58 L144.71,285.17 L144.12,283.51 L143.53,283.31 L142.94,283.81 L142.35,283.09 L141.76,284.82 L141.18,285.58 L140.59,285.95 L140.00,285.73 L139.42,285.17 L138.83,284.92 L138.25,285.54 L137.67,285.80 L137.08,285.92 L136.50,286.49 L135.92,284.83 L135.33,286.24 L134.75,287.21 L134.17,286.02 L133.58,286.09 L133.00,285.53 L132.42,285.77 L131.83,285.83 L131.25,285.77 L130.67,286.95 L130.08,286.79 L129.50,286.71 L128.91,286.27 L128.31,286.39 L127.72,286.48 L127.12,286.63 L126.53,286.23 L125.94,285.96 L125.34,286.14 L124.75,286.33 L124.16,286.22 L123.56,285.26 L122.97,287.06 L122.38,287.12 L121.78,285.20 L121.19,286.35 L120.59,285.48 L120.00,285.22 L119.43,285.18 L118.86,284.24 L118.29,284.31 L117.71,284.54 L117.14,284.98 L116.57,284.58 L116.00,283.57 L115.43,282.75 L114.86,283.81 L114.29,284.02 L113.71,283.94 L113.14,282.70 L112.57,282.14 L112.00,282.02 L111.43,283.85 L110.86,280.57 L110.29,281.20 L109.72,281.09 L109.15,279.24 L108.58,280.70 L108.01,278.47 L107.44,278.89 L106.87,278.79 L106.30,277.57 L105.75,276.75 L105.20,275.68 L104.65,274.72 L104.10,271.94 L103.55,272.98 L103.00,270.01 L102.46,268.82 L101.91,269.35 L101.37,268.85 L100.83,266.92 L100.29,266.63 L99.74,266.29 L99.20,264.55 L98.69,263.69 L98.17,262.02 L97.66,261.48 L97.14,260.06 L96.63,259.86 L96.11,259.61 L95.60,257.90 L95.00,256.25 L94.40,253.19 L93.80,252.50 L93.20,250.96 L92.60,246.86 L92.00,244.93 L91.48,241.53 L90.96,238.24 L90.44,235.38 L89.92,231.96 L89.40,228.96 L88.90,223.72 L88.40,218.86 L87.90,214.38 L87.43,215.72 L86.95,216.54 L86.47,217.92 L86.00,218.87 L85.50,221.41 L85.00,224.68 L84.50,227.21 L84.00,230.06 L83.50,232.92 L83.00,235.92 L82.50,239.98 L82.00,240.81 L81.50,239.76 L81.00,237.74 L80.50,235.31 L80.00,229.33 L79.50,226.00 L78.93,215.67 L78.37,205.33 L77.80,195.00 L77.30,150.00 L76.90,100.00 L76.60,72.50 L76.30,45.00 L75.90,33.50 L75.50,22.00 L75.05,31.00 L74.60,40.00 L74.20,65.00 L73.80,90.00 L73.20,150.00 L72.90,180.00 L72.60,210.00Z" fill="#f00" stroke="#f00" stroke-width="0.5"/>
<path d="M72.60,210.00 L73.20,150.00 L73.80,90.00 L74.20,65.00 L74.60,40.00 L75.05,31.00 L75.50,22.00 L75.90,33.50 L76.30,45.00 L76.90,100.00 L77.30,150.00 L77.80,195.00 L78.37,205.33 L78.93,215.67 L79.50,226.00 L80.00,229.33 L80.50,241.24 L81.00,227.06 L81.50,238.42 L82.00,235.35 L82.50,236.42 L83.00,234.25 L83.50,224.93 L84.00,228.19 L84.67,222.31 L85.33,235.62 L86.00,218.95 L86.63,215.10 L87.27,213.68 L87.90,210.66 L88.40,214.31 L88.90,221.63 L89.40,230.02 L90.05,231.17 L90.70,240.02 L91.35,239.30 L92.00,244.10 L92.60,252.33 L93.20,249.96 L93.80,247.73 L94.40,250.69 L95.00,255.44 L95.60,263.13 L96.20,255.06 L96.80,256.15 L97.40,262.21 L98.00,255.90 L98.60,258.98 L99.20,264.71 L99.83,264.60 L100.47,263.72 L101.10,267.31 L101.73,255.77 L102.37,271.12 L103.00,264.64 L103.66,263.56 L104.32,271.96 L104.98,275.14 L105.64,272.04 L106.30,271.23 L106.93,275.61 L107.57,275.82 L108.20,282.40 L108.83,280.14 L109.47,278.31 L110.10,282.67 L110.73,277.78 L111.37,275.76 L112.00,281.95 L112.67,282.20 L113.33,279.25 L114.00,277.51 L114.67,281.46 L115.33,272.02 L116.00,283.90 L116.67,283.31 L117.33,275.76 L118.00,282.01 L118.67,278.63 L119.33,285.43 L120.00,275.38 L120.68,279.37 L121.36,285.62 L122.04,287.57 L122.71,275.23 L123.39,281.11 L124.07,284.31 L124.75,280.87 L125.43,289.75 L126.11,278.97 L126.79,284.70 L127.46,279.62 L128.14,289.26 L128.82,283.35 L129.50,282.20 L130.16,277.42 L130.81,290.44 L131.47,286.47 L132.12,286.41 L132.78,287.97 L133.44,284.59 L134.09,280.83 L134.75,280.20 L135.41,280.14 L136.06,288.63 L136.72,277.70 L137.38,280.66 L138.03,281.56 L138.69,283.57 L139.34,284.98 L140.00,278.13 L140.67,276.23 L141.33,282.06 L142.00,286.96 L142.67,284.83 L143.33,282.34 L144.00,280.11 L144.67,282.24 L145.33,279.94 L146.00,284.01 L146.67,277.59 L147.33,280.72 L148.00,279.55 L148.67,282.01 L149.33,280.46 L150.00,290.01 L150.67,285.21 L151.33,284.81 L152.00,271.00 L152.67,276.56 L153.33,275.24 L154.00,279.22 L154.67,268.62 L155.33,281.14 L156.00,280.30 L156.67,270.88 L157.33,271.62 L158.00,271.86 L158.67,274.46 L159.33,276.58 L160.00,282.10 L160.67,272.21 L161.33,275.52 L162.00,272.35 L162.67,278.49 L163.33,273.62 L164.00,275.65 L164.67,265.53 L165.33,268.03 L166.00,265.25 L166.67,273.82 L167.33,269.66 L168.00,265.23 L168.67,264.12 L169.33,267.14 L170.00,262.04 L170.67,260.54 L171.33,265.12 L172.00,272.75 L172.67,260.84 L173.33,259.05 L174.00,256.20 L174.67,254.93 L175.33,261.10 L176.00,261.77 L176.67,257.54 L177.33,258.20 L178.00,256.59 L178.67,255.98 L179.33,249.36 L180.00,252.40 L180.67,253.80 L181.33,249.93 L182.00,250.33 L182.67,248.47 L183.33,249.50 L184.00,253.58 L184.67,247.91 L185.33,248.13 L186.00,251.42 L186.67,250.04 L187.33,253.79 L188.00,238.68 L188.67,248.93 L189.33,242.98 L190.00,244.57 L190.62,247.02 L191.25,247.55 L191.88,246.87 L192.50,242.65 L193.12,248.26 L193.75,240.01 L194.38,240.01 L195.00,243.36 L195.62,237.57 L196.25,248.08 L196.88,242.78 L197.50,247.14 L198.12,237.41 L198.75,235.66 L199.38,237.20 L200.00,239.09 L200.70,233.89 L201.40,237.49 L202.10,235.79 L202.80,242.59 L203.50,233.43 L204.20,240.09 L204.90,233.40 L205.60,232.24 L206.30,233.06 L207.00,231.33 L207.70,236.11 L208.40,239.83 L209.10,236.19 L209.80,238.12 L210.50,242.36 L211.20,236.63 L211.90,236.32 L212.60,234.54 L213.30,229.87 L214.00,238.69 L214.67,229.35 L215.33,238.24 L216.00,235.45 L216.67,240.23 L217.33,235.26 L218.00,232.62 L218.67,237.00 L219.33,233.54 L220.00,234.87 L220.67,235.68 L221.33,235.03 L222.00,234.84 L222.60,231.09 L223.20,231.84 L223.80,223.52 L224.40,228.95 L225.00,223.81 L225.62,226.96 L226.25,221.83 L226.88,203.92 L227.50,205.61 L228.20,200.89 L228.90,194.00 L229.60,196.23 L230.23,196.05 L230.87,195.15 L231.50,204.07 L232.00,208.81 L232.50,214.11 L233.00,213.69 L233.60,222.92 L234.20,225.76 L234.80,220.99 L235.37,217.69 L235.93,214.72 L236.50,208.02 L237.17,203.99 L237.83,184.21 L238.50,166.46 L239.00,155.57 L239.50,146.47 L240.00,144.64 L240.67,129.38 L241.33,125.54 L242.00,122.16 L242.50,124.86 L243.00,139.58 L243.50,133.14 L244.07,149.79 L244.63,159.01 L245.20,172.61 L245.85,169.88 L246.50,185.43 L247.10,175.57 L247.70,174.14 L248.30,168.73 L248.85,173.45 L249.40,182.37 L249.85,202.14 L250.30,219.16 L250.85,224.58 L251.40,226.00 L251.95,226.62 L252.50,233.51 L253.07,234.74 L253.65,234.15 L254.23,239.80 L254.80,244.40 L255.48,241.99 L256.15,241.75 L256.82,248.02 L257.50,254.98 L258.17,246.93 L258.83,248.01 L259.50,248.52 L260.12,252.64 L260.75,239.57 L261.38,246.04 L262.00,248.01 L262.60,238.15 L263.20,245.25 L263.80,239.25 L264.40,233.08 L265.00,233.86 L265.62,226.38 L266.25,228.52 L266.88,236.92 L267.50,224.87 L268.20,238.05 L268.90,232.31 L269.60,239.08 L270.30,237.38 L271.00,231.65 L271.63,240.28 L272.26,245.87 L272.89,243.83 L273.51,245.93 L274.14,254.97 L274.77,253.94 L275.40,253.06 L276.04,257.89 L276.69,265.19 L277.33,261.20 L277.97,268.07 L278.61,271.84 L279.26,266.85 L279.90,264.05 L280.57,263.90 L281.25,268.82 L281.92,273.06 L282.59,270.95 L283.26,272.57 L283.94,269.18 L284.61,272.44 L285.28,269.99 L285.95,270.95 L286.63,268.02 L287.30,267.50 L287.97,271.41 L288.64,269.32 L289.31,269.94 L289.98,276.22 L290.65,273.13 L291.32,285.84 L291.99,277.59 L292.66,271.58 L293.33,277.17 L294.00,275.50 L294.67,271.27 L295.33,277.96 L296.00,270.29 L296.67,261.96 L297.33,275.67 L298.00,269.84 L298.67,277.91 L299.33,269.06 L300.00,266.87 L300.67,276.90 L301.34,266.04 L302.01,270.05 L302.68,274.69 L303.35,268.48 L304.02,267.12 L304.69,267.23 L305.36,269.72 L306.03,262.78 L306.70,267.56 L307.36,267.80 L308.02,275.55 L308.69,264.95 L309.35,263.30 L310.01,269.96 L310.68,265.86 L311.34,268.84 L312.00,268.56 L312.67,272.91 L313.33,265.70 L314.00,267.68 L314.67,259.07 L315.33,264.88 L316.00,274.45 L316.67,265.61 L317.33,265.54 L318.00,263.74 L318.67,270.44 L319.33,268.75 L320.00,263.85 L320.69,270.34 L321.38,268.17 L322.08,269.78 L322.77,263.91 L323.46,272.99 L324.15,266.95 L324.85,264.36 L325.54,262.49 L326.23,262.99 L326.92,266.99 L327.62,261.98 L328.31,266.99 L329.00,264.44 L329.70,267.66 L330.40,265.42 L331.10,261.78 L331.80,255.32 L332.50,263.25 L333.20,265.31 L333.90,262.68 L334.60,264.34 L335.30,260.35 L336.00,260.67 L336.67,258.92 L337.33,268.16 L338.00,263.33 L338.67,261.17 L339.33,258.45 L340.00,262.80 L340.67,269.61 L341.33,265.72 L342.00,261.46 L342.67,269.59 L343.33,269.17 L344.00,266.87 L344.67,265.65 L345.33,266.77 L346.00,263.78 L346.67,264.34 L347.33,257.94 L348.00,266.55 L348.67,260.80 L349.33,267.92 L350.00,251.85 L350.56,261.16 L351.12,261.52 L351.68,255.40 L352.24,257.70 L352.80,258.14 L353.35,254.93 L353.90,248.11 L354.45,247.00 L355.00,249.28 L355.62,247.11 L356.25,238.92 L356.88,235.57 L357.50,232.84 L358.12,228.36 L358.75,212.31 L359.38,203.35 L360.00,200.52 L360.62,188.39 L361.24,182.47 L361.86,177.14 L362.48,171.07 L363.10,157.55 L363.73,174.23 L364.37,174.23 L365.00,192.29 L365.62,193.23 L366.25,203.04 L366.88,218.95 L367.50,223.58 L368.12,225.97 L368.75,230.94 L369.38,238.20 L370.00,239.81 L370.58,242.50 L371.16,249.63 L371.74,245.29 L372.32,248.75 L372.90,251.17 L373.58,259.08 L374.27,259.50 L374.95,261.91 L375.63,257.55 L376.32,258.28 L377.00,263.58 L377.69,258.08 L378.38,262.41 L379.08,261.43 L379.77,255.40 L380.46,257.02 L381.15,256.35 L381.85,263.51 L382.54,266.56 L383.23,254.80 L383.92,254.67 L384.62,246.09 L385.31,254.43 L386.00,252.98 L386.67,248.91 L387.33,255.63 L388.00,246.52 L388.67,250.91 L389.33,251.92 L390.00,246.63 L390.67,254.26 L391.33,254.77 L392.00,245.15 L392.67,245.49 L393.33,253.36 L394.00,251.14 L394.67,247.43 L395.33,251.05 L396.00,252.12 L396.67,252.42 L397.33,256.81 L398.00,255.36 L398.67,261.60 L399.33,260.36 L400.00,257.85 L400.67,259.69 L401.33,260.89 L402.00,258.47 L402.67,251.38 L403.33,259.44 L404.00,256.30 L404.70,262.50 L405.40,255.79 L406.10,257.31 L406.80,256.18 L407.50,261.56 L408.20,254.94 L408.90,252.96 L409.60,254.90 L410.30,251.76 L411.00,253.68 L411.57,251.40 L412.15,250.99 L412.73,256.35 L413.30,245.28 L413.94,243.92 L414.58,240.12 L415.22,240.70 L415.86,230.80 L416.50,229.58 L417.17,228.43 L417.83,227.43 L418.50,221.54 L419.19,217.34 L419.88,213.44 L420.56,216.01 L421.25,217.31 L421.88,215.22 L422.50,217.27 L423.12,220.95 L423.75,218.40 L424.43,224.71 L425.12,228.96 L425.80,235.24 L426.50,237.42 L427.20,236.81 L427.90,249.33 L428.52,253.06 L429.15,246.38 L429.77,250.33 L430.40,251.12 L431.00,253.63 L431.60,245.49 L432.20,257.77 L432.80,249.70 L433.40,256.98 L434.00,252.34 L434.61,250.92 L435.23,252.08 L435.84,256.63 L436.46,250.12 L437.07,252.12 L437.69,252.03 L438.30,248.00 L438.93,260.46 L439.56,258.43 L440.19,256.93 L440.81,262.89 L441.44,255.65 L442.07,259.74 L442.70,268.25 L443.36,265.91 L444.02,254.81 L444.68,251.74 L445.34,260.57 L446.00,269.46 L446.67,263.51 L447.33,264.57 L448.00,268.05 L448.67,262.57 L449.33,266.73 L450.00,269.33 L450.67,268.13 L451.33,268.00 L452.00,264.39 L452.67,268.83 L453.33,265.34 L454.00,272.48 L454.67,277.96 L455.33,264.74 L456.00,259.89 L456.67,266.18 L457.33,269.42 L458.00,272.41 L458.67,273.03 L459.33,266.26 L460.00,266.72 L460.67,275.32 L461.33,266.68 L462.00,275.58 L462.70,270.26 L463.40,274.32 L464.10,274.12 L464.80,274.46 L465.50,274.70 L466.20,267.84 L466.90,272.60 L467.60,271.46 L468.30,272.75 L469.00,276.68 L469.70,270.60 L470.40,269.11 L471.10,269.10 L471.80,270.61 L472.50,274.91 L473.20,268.95 L473.90,276.72 L474.60,273.12 L475.30,271.16 L476.00,267.34 L476.70,272.98 L477.40,274.80 L478.10,265.67 L478.80,276.81 L479.50,278.67 L480.20,273.12 L480.90,273.72 L481.60,281.74 L482.30,276.72 L483.00,268.36 L483.70,271.39 L484.40,270.85 L485.10,270.82 L485.80,263.03 L486.50,274.43 L487.20,268.97 L487.90,271.84 L488.60,270.62 L489.30,274.71 L490.00,269.96 L490.67,268.22 L491.33,273.24 L492.00,276.90 L492.67,269.88 L493.33,276.75 L494.00,272.10 L494.67,269.14 L495.33,277.41 L496.00,268.13 L496.67,275.26 L497.33,269.26 L498.00,272.89 L498.67,266.68 L499.33,268.07 L500.00,275.47 L500.69,271.64 L501.38,270.85 L502.08,269.00 L502.77,272.26 L503.46,265.34 L504.15,266.16 L504.85,269.37 L505.54,266.85 L506.23,267.16 L506.92,269.21 L507.62,268.83 L508.31,268.38 L509.00,275.99 L509.69,273.68 L510.38,275.04 L511.06,270.21 L511.75,268.98 L512.44,266.10 L513.12,270.41 L513.81,264.76 L514.50,270.46 L515.19,276.15 L515.88,280.19 L516.56,277.87 L517.25,271.23 L517.94,276.76 L518.62,272.36 L519.31,279.02 L520.00,275.61 L520.67,279.67 L521.33,286.94 L522.00,280.07 L522.67,286.06 L523.33,277.08 L524.00,275.25 L524.67,282.07 L525.33,283.78 L526.00,274.66 L526.67,276.99 L527.33,271.71 L528.00,276.10 L528.67,280.60 L529.33,276.63 L530.00,275.01 L530.69,272.31 L531.38,279.01 L532.06,281.04 L532.75,280.43 L533.44,279.23 L534.12,273.93 L534.81,286.02 L535.50,278.65 L536.19,278.57 L536.88,282.39 L537.56,271.97 L538.25,279.55 L538.94,279.53 L539.62,281.80 L540.31,286.13 L541.00,282.68" fill="none" stroke="#a81000" stroke-width="0.6" stroke-linejoin="miter"/>
<path d="M85.00,224.73 L85.75,220.57 L86.50,215.37 L87.20,213.75 L87.90,211.07 L88.65,218.78 L89.40,225.64 L90.05,229.56 L90.70,232.96 L91.35,237.90 L92.00,241.04" fill="none" stroke="#3a1a0a" stroke-width="1.1" stroke-linejoin="miter"/>
<path d="M72.2,6 V311 H542.5" fill="none" stroke="#000" stroke-width="2"/>
<path d="M65.2,310.9 H72.2 M68.7,285.5 H72.2 M65.2,260.2 H72.2 M68.7,234.8 H72.2 M65.2,209.4 H72.2 M68.7,184.0 H72.2 M65.2,158.7 H72.2 M68.7,133.3 H72.2 M65.2,107.9 H72.2 M68.7,82.6 H72.2 M65.2,57.2 H72.2 M68.7,31.8 H72.2 M65.2,6.5 H72.2 M120.1,311 V314.5 M180.4,311 V317 M240.8,311 V314.5 M301.1,311 V317 M361.4,311 V314.5 M421.8,311 V317 M482.1,311 V314.5 M542.5,311 V317" stroke="#000" stroke-width="1.6" fill="none"/>
<text x="60.5" y="314.5" text-anchor="end" font-size="12.3">0</text>
<text x="60.5" y="263.8" text-anchor="end" font-size="12.3">200</text>
<text x="60.5" y="213.0" text-anchor="end" font-size="12.3">400</text>
<text x="60.5" y="162.3" text-anchor="end" font-size="12.3">600</text>
<text x="60.5" y="111.5" text-anchor="end" font-size="12.3">800</text>
<text x="60.5" y="60.8" text-anchor="end" font-size="12.3">1000</text>
<text x="60.5" y="9.5" text-anchor="end" font-size="12.3">1200</text>
<text x="180.4" y="324.3" text-anchor="middle" font-size="12.3">20</text>
<text x="301.1" y="324.3" text-anchor="middle" font-size="12.3">40</text>
<text x="421.8" y="324.3" text-anchor="middle" font-size="12.3">60</text>
<text x="542.5" y="324.3" text-anchor="middle" font-size="12.3">80</text>
<text x="278.5" y="335" font-size="13.3" textLength="46.5" lengthAdjust="spacingAndGlyphs">2 theta</text>
<text transform="translate(11,181.8) rotate(-90)" font-size="12.8" textLength="53.3" lengthAdjust="spacingAndGlyphs">Intensity</text>
<path d="M94.6,188 L114.5,127.5" stroke="#000" stroke-width="1.6"/>
<path d="M118.2,119.5 L110.2,128.2 L119.4,130.6 Z" fill="#000"/>
<path d="M127.80,60.40 L129.10,67.90 L130.90,69.00 L132.40,70.30 L134.00,72.00 L136.40,72.00 L138.00,74.00 L141.30,73.60 L143.00,72.00 L146.20,70.30 L149.00,68.00 L152.00,66.20 L154.00,68.00 L156.90,70.30 L159.00,72.00 L162.60,74.40 L165.00,76.00 L168.30,77.70 L174.00,79.30 L180.00,79.60 L185.00,81.00 L191.90,81.40 L203.80,83.80 L215.70,83.80 L225.20,83.80 L235.40,85.00" fill="none" stroke="#fcd0e4" stroke-width="9" stroke-linecap="round" opacity="0.6" filter="url(#bl)"/>
<path d="M112.50,41.20 L113.50,48.68 L114.40,56.00 L115.30,62.92 L116.20,53.14 L117.40,44.91 L118.20,39.85 L119.00,35.22 L119.75,32.25 L120.50,28.63 L121.80,16.27 L122.60,10.27 L123.30,15.04 L124.25,28.60 L125.00,37.20 L125.70,44.07 L126.60,51.92 L127.80,59.24 L129.10,67.27 L130.00,67.96 L130.90,68.29 L131.65,70.20 L132.40,70.24 L133.20,70.56 L134.00,72.41 L135.20,72.83 L136.40,70.36 L137.20,72.74 L138.00,73.02 L139.10,73.69 L140.20,72.44 L141.30,73.62 L142.15,72.76 L143.00,71.70 L144.07,70.39 L145.13,70.47 L146.20,69.21 L147.13,68.18 L148.07,68.99 L149.00,66.89 L150.00,68.57 L151.00,67.52 L152.00,64.20 L153.00,67.37 L154.00,66.90 L154.97,68.80 L155.93,69.58 L156.90,68.31 L157.95,70.92 L159.00,71.74 L160.20,73.76 L161.40,72.42 L162.60,75.14 L163.80,74.10 L165.00,75.67 L166.10,75.73 L167.20,78.58 L168.30,78.27 L169.44,80.45 L170.58,78.98 L171.72,79.50 L172.86,79.82 L174.00,78.69 L175.20,79.29 L176.40,80.77 L177.60,79.08 L178.80,79.73 L180.00,79.58 L181.25,80.56 L182.50,79.94 L183.75,80.50 L185.00,81.24 L186.15,81.17 L187.30,80.27 L188.45,82.10 L189.60,79.97 L190.75,80.13 L191.90,80.12 L193.09,82.61 L194.28,81.52 L195.47,81.15 L196.66,81.22 L197.85,83.02 L199.04,81.79 L200.23,81.81 L201.42,83.93 L202.61,82.36 L203.80,83.48 L204.99,83.79 L206.18,83.35 L207.37,83.75 L208.56,85.14 L209.75,83.28 L210.94,82.54 L212.13,81.96 L213.32,83.60 L214.51,83.45 L215.70,84.07 L216.89,83.34 L218.07,83.32 L219.26,83.08 L220.45,83.28 L221.64,83.96 L222.82,83.42 L224.01,83.90 L225.20,85.70 L226.47,84.43 L227.75,82.52 L229.03,85.98 L230.30,84.75 L231.57,83.61 L232.85,85.61 L234.12,84.87 L235.40,84.38" fill="none" stroke="#707066" stroke-width="1.1"/>
<path d="M112.50,41.65 L113.50,49.78 L114.70,49.45 L116.00,49.86 L116.70,48.41 L117.40,46.15 L118.20,41.05 L119.00,37.50 L119.75,31.79 L120.50,27.55 L121.80,16.18 L122.60,10.43 L123.30,15.15 L124.25,27.38 L125.00,36.42 L125.70,47.07 L126.60,53.29 L127.80,62.20 L129.10,67.87 L130.00,69.83 L130.90,68.09 L131.65,68.83 L132.40,70.38 L133.20,71.43 L134.00,70.40 L135.20,70.27 L136.40,72.36 L137.20,72.14 L138.00,75.21 L139.10,74.26 L140.20,74.04 L141.30,73.81 L142.15,73.70 L143.00,71.85 L144.07,72.52 L145.13,70.34 L146.20,70.08 L147.13,68.85 L148.07,69.36 L149.00,68.04 L150.00,66.54 L151.00,68.80 L152.00,65.84 L153.00,66.98 L154.00,68.39 L154.97,70.51 L155.93,69.38 L156.90,71.00 L157.95,71.25 L159.00,70.54 L160.20,73.59 L161.40,74.62 L162.60,74.16 L163.80,75.18 L165.00,74.50 L166.10,75.04 L167.20,76.74 L168.30,78.33 L169.44,77.55 L170.58,78.63 L171.72,79.63 L172.86,79.08 L174.00,79.87 L175.20,80.81 L176.40,78.17 L177.60,80.22 L178.80,77.66 L180.00,80.03 L181.25,80.15 L182.50,79.76 L183.75,79.57 L185.00,80.94 L186.15,80.66 L187.30,81.23 L188.45,80.29 L189.60,81.81 L190.75,80.30 L191.90,81.10 L193.09,81.25 L194.28,83.15 L195.47,80.62 L196.66,81.95 L197.85,83.78 L199.04,82.18 L200.23,81.84 L201.42,83.60 L202.61,83.27 L203.80,84.63 L204.99,82.88 L206.18,83.99 L207.37,84.47 L208.56,84.84 L209.75,82.69 L210.94,85.22 L212.13,82.90 L213.32,82.29 L214.51,82.85 L215.70,83.95 L216.89,83.48 L218.07,84.24 L219.26,84.30 L220.45,84.12 L221.64,83.55 L222.82,85.61 L224.01,81.58 L225.20,82.07 L226.47,83.44 L227.75,82.84 L229.03,81.69 L230.30,83.60 L231.57,83.80 L232.85,82.25 L234.12,85.71 L235.40,86.30" fill="none" stroke="#9a3a22" stroke-width="1.3"/>
<path d="M112.3,7 V93.2 H235.2" fill="none" stroke="#000" stroke-width="0.9"/>
<path d="M110.1,93.2 H112.3 M111.1,86.0 H112.3 M110.1,78.8 H112.3 M111.1,71.7 H112.3 M110.1,64.5 H112.3 M111.1,57.3 H112.3 M110.1,50.1 H112.3 M111.1,42.9 H112.3 M110.1,35.8 H112.3 M111.1,28.6 H112.3 M110.1,21.4 H112.3 M111.1,14.2 H112.3 M110.1,7.0 H112.3 M112.3,93.2 V95.4 M120.0,93.2 V94.4 M127.6,93.2 V95.4 M135.3,93.2 V94.4 M143.0,93.2 V95.4 M150.6,93.2 V94.4 M158.3,93.2 V95.4 M166.0,93.2 V94.4 M173.6,93.2 V95.4 M181.3,93.2 V94.4 M188.9,93.2 V95.4 M196.6,93.2 V94.4 M204.3,93.2 V95.4 M211.9,93.2 V94.4 M219.6,93.2 V95.4 M227.3,93.2 V94.4 M234.9,93.2 V95.4" stroke="#000" stroke-width="0.8" fill="none"/>
<text x="108.8" y="95.8" text-anchor="end" font-size="7.4">0</text>
<text x="108.8" y="81.4" text-anchor="end" font-size="7.4">200</text>
<text x="108.8" y="67.1" text-anchor="end" font-size="7.4">400</text>
<text x="108.8" y="52.7" text-anchor="end" font-size="7.4">600</text>
<text x="108.8" y="38.4" text-anchor="end" font-size="7.4">800</text>
<text x="108.8" y="24.0" text-anchor="end" font-size="7.4">1000</text>
<text x="108.8" y="9.6" text-anchor="end" font-size="7.4">1200</text>
<text x="112.3" y="101.9" text-anchor="middle" font-size="7.4">2</text>
<text x="127.6" y="101.9" text-anchor="middle" font-size="7.4">3</text>
<text x="143.0" y="101.9" text-anchor="middle" font-size="7.4">4</text>
<text x="158.3" y="101.9" text-anchor="middle" font-size="7.4">5</text>
<text x="173.6" y="101.9" text-anchor="middle" font-size="7.4">6</text>
<text x="188.9" y="101.9" text-anchor="middle" font-size="7.4">7</text>
<text x="204.3" y="101.9" text-anchor="middle" font-size="7.4">8</text>
<text x="219.6" y="101.9" text-anchor="middle" font-size="7.4">9</text>
<text x="234.9" y="101.9" text-anchor="middle" font-size="7.4">10</text>
<text x="161.8" y="112.7" font-size="7.4" textLength="23.7" lengthAdjust="spacingAndGlyphs">2 theta</text>
<text transform="translate(85,62) rotate(-90)" font-size="7.2" textLength="27" lengthAdjust="spacingAndGlyphs">Intensity</text>
<rect x="297.8" y="42.6" width="197.8" height="38.2" fill="#fff" stroke="#000" stroke-width="1.2"/>
<path d="M305,53 H340" stroke="#777" stroke-width="1.3"/>
<path d="M305,70.6 H340" stroke="#d9a88a" stroke-width="1.3"/>
<text x="345.6" y="57.3" font-size="13.1" style="stroke-width:0.4px" textLength="136.8" lengthAdjust="spacingAndGlyphs">SZ/MCM-41, 4 days</text>
<text x="345.6" y="75" font-size="13.1" style="stroke-width:0.4px" textLength="141.8" lengthAdjust="spacingAndGlyphs">SZ//MCM-41, 6 days</text>
</g>
<g style="mix-blend-mode:multiply">
<g opacity="0.35"><rect x="79.3" y="127.4" width="17.2" height="8.1" fill="#e6fbfd"/><rect x="86.6" y="143.7" width="18" height="7.4" fill="#e6fbfd"/><rect x="95.6" y="159.3" width="64" height="8.2" fill="#e6fbfd"/><path d="M80.9,135.5 L84,133 L88.3,130.6 L92,133.5 L97.3,135.5" fill="none" stroke="#f99ad2" stroke-width="1"/><path d="M85,144.2 L92,146.5 L100.5,150.3 L107,150.8 L114.5,151.1" fill="none" stroke="#f99ad2" stroke-width="1"/><path d="M95.6,160.1 L105,161.5 L115.3,162.6 L125,163.8 L135,164.6 L145,165.1 L156.2,165.8" fill="none" stroke="#f99ad2" stroke-width="1" stroke-dasharray="2.5 1"/></g>
<g opacity="0.6"><rect x="246.2" y="127.9" width="33.4" height="5.9" fill="#e3fbfd"/><path d="M240,134.5 H277" stroke="#f9b0dc" stroke-width="1.2"/><rect x="271.7" y="151.9" width="2.4" height="7.7" fill="#d5f6fb"/><rect x="274.1" y="151.9" width="3.2" height="7.7" fill="#f9d0ee"/><rect x="277.3" y="151.9" width="2.6" height="7.7" fill="#d5f6fb"/></g>
<rect x="58.5" y="33.9" width="1.6" height="5" fill="#d9f6fb"/><rect x="60.0" y="33.9" width="1.6" height="5" fill="#fbd6ee"/>
<rect x="49.3" y="48.6" width="1.6" height="5" fill="#d9f6fb"/><rect x="50.8" y="48.6" width="1.6" height="5" fill="#fbd6ee"/>
<rect x="42.8" y="65.0" width="1.6" height="5" fill="#d9f6fb"/><rect x="44.3" y="65.0" width="1.6" height="5" fill="#fbd6ee"/>
<rect x="34.5" y="81.5" width="1.6" height="5" fill="#d9f6fb"/><rect x="36.0" y="81.5" width="1.6" height="5" fill="#fbd6ee"/>
<rect x="27.4" y="96.2" width="1.6" height="5" fill="#d9f6fb"/><rect x="28.9" y="96.2" width="1.6" height="5" fill="#fbd6ee"/>
<rect x="18.2" y="112.5" width="1.6" height="5" fill="#d9f6fb"/><rect x="19.7" y="112.5" width="1.6" height="5" fill="#fbd6ee"/>
<rect x="11.0" y="128.5" width="1.6" height="5" fill="#d9f6fb"/><rect x="12.5" y="128.5" width="1.6" height="5" fill="#fbd6ee"/>
<rect x="67.0" y="96.2" width="1.6" height="5" fill="#d9f6fb"/><rect x="68.5" y="96.2" width="1.6" height="5" fill="#fbd6ee"/>
</g>
</svg>
</body></html>
